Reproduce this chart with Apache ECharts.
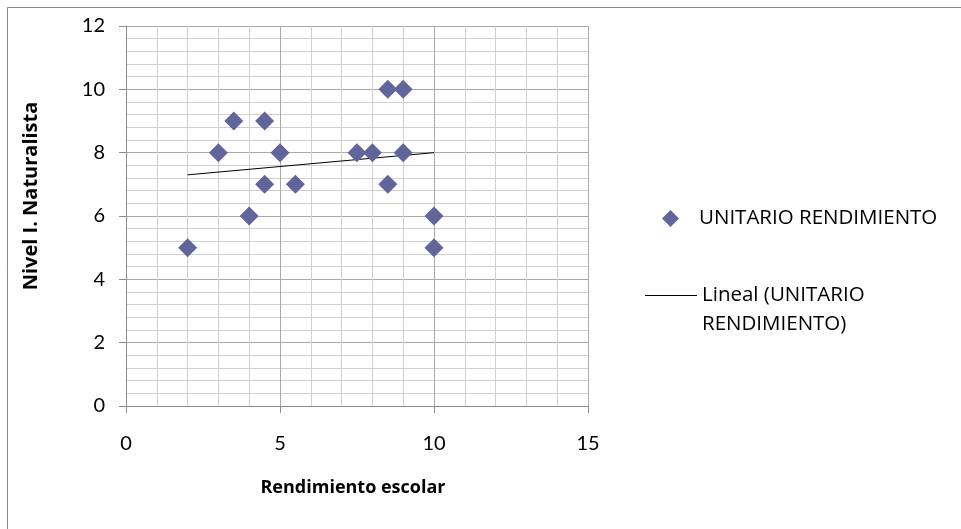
<!DOCTYPE html>
<html>
<head>
<meta charset="utf-8">
<script src="https://cdn.jsdelivr.net/npm/echarts@6/dist/echarts.min.js"></script>
<style>
  html, body { margin: 0; padding: 0; background: #fff; }
  #chart { width: 961px; height: 529px; }
</style>
</head>
<body>
<div id="chart"></div>
<script>
// Rendimiento escolar (x) vs Nivel I. Naturalista (y)
const rendimiento = [2, 3, 3.5, 4, 4.5, 4.5, 5, 5.5, 7.5, 8, 8.5, 9, 9, 8.5, 10, 10];
const naturalista = [5, 8, 9, 6, 9, 7, 8, 7, 8, 8, 10, 10, 8, 7, 6, 5];

// Linear trend line end points
const trendX = [2, 10];
const trendY = [7.3, 8.0];

const seriesName = 'UNITARIO RENDIMIENTO';
const trendName = 'Lineal (UNITARIO RENDIMIENTO)';

const FONT = 'Lato';
const LEGEND_FONT = 'Open Sans';
const markerColor = '#62649c';

const chart = echarts.init(document.getElementById('chart'), null, { renderer: 'canvas' });

chart.setOption({
  backgroundColor: '#ffffff',
  animation: false,
  textStyle: { fontFamily: FONT },
  grid: { left: 126, top: 26, width: 462, height: 380, containLabel: false },
  xAxis: {
    type: 'value',
    min: 0, max: 15, interval: 5,
    axisLine: { show: true, lineStyle: { color: '#8c8c8c', width: 1 } },
    axisTick: { show: true, length: 7, lineStyle: { color: '#8c8c8c' } },
    axisLabel: { color: '#000', fontSize: 20, margin: 28, fontFamily: FONT },
    splitLine: { show: true, lineStyle: { color: '#a8a8a8', width: 1 } },
    minorTick: { show: false, splitNumber: 5 },
    minorSplitLine: { show: true, lineStyle: { color: '#d0d0d0', width: 1 } }
  },
  yAxis: {
    type: 'value',
    min: 0, max: 12, interval: 2,
    axisLine: { show: true, lineStyle: { color: '#8c8c8c', width: 1 } },
    axisTick: { show: true, length: 7, lineStyle: { color: '#8c8c8c' } },
    axisLabel: { color: '#000', fontSize: 20, margin: 21, fontFamily: FONT },
    splitLine: { show: true, lineStyle: { color: '#a8a8a8', width: 1 } },
    minorTick: { show: false, splitNumber: 5 },
    minorSplitLine: { show: true, lineStyle: { color: '#d0d0d0', width: 1 } }
  },
  legend: [
    {
      data: [{ name: seriesName, icon: 'diamond' }],
      orient: 'vertical',
      left: 662, top: 208,
      padding: 0,
      itemWidth: 17, itemHeight: 17,
      textStyle: { fontFamily: LEGEND_FONT, fontSize: 20.5, color: '#000', padding: [0, 0, 0, 15] },
      selectedMode: false
    },
    {
      data: [{ name: trendName, icon: 'path://M0,0L52,0L52,1L0,1Z' }],
      orient: 'vertical',
      left: 645, top: 252,
      padding: 0,
      itemWidth: 52, itemHeight: 14,
      formatter: function () { return '\nLineal (UNITARIO\nRENDIMIENTO)'; },
      textStyle: { fontFamily: LEGEND_FONT, fontSize: 20.5, color: '#000', lineHeight: 29 },
      selectedMode: false
    }
  ],
  graphic: [
    {
      type: 'rect',
      shape: { x: 7.5, y: 7.5, width: 1000, height: 600 },
      style: { fill: 'none', stroke: '#888', lineWidth: 1 },
      silent: true
    },
    {
      type: 'text',
      x: 31, y: 196,
      rotation: Math.PI / 2,
      style: {
        text: 'Nivel I. Naturalista',
        font: 'bold 20px ' + LEGEND_FONT,
        fill: '#000',
        align: 'center',
        verticalAlign: 'middle'
      }
    },
    {
      type: 'text',
      x: 353, y: 488,
      style: {
        text: 'Rendimiento escolar',
        font: 'bold 18px ' + LEGEND_FONT,
        fill: '#000',
        align: 'center',
        verticalAlign: 'middle'
      }
    }
  ],
  series: [
    {
      name: seriesName,
      type: 'scatter',
      symbol: 'diamond',
      symbolSize: 19,
      itemStyle: { color: markerColor, opacity: 1 },
      data: rendimiento.map((x, i) => [x, naturalista[i]]),
      z: 3
    },
    {
      name: trendName,
      type: 'line',
      symbol: 'none',
      lineStyle: { color: '#000', width: 1 },
      itemStyle: { color: '#000' },
      data: trendX.map((x, i) => [x, trendY[i]]),
      z: 2
    }
  ]
});
</script>
</body>
</html>
